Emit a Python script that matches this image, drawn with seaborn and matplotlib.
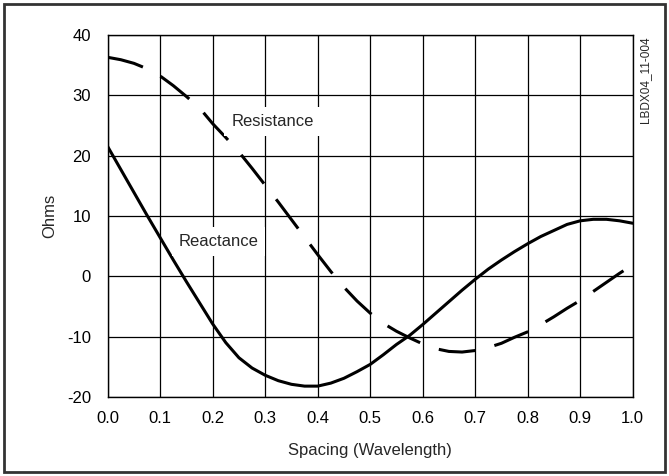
import numpy as np
import pandas as pd
import seaborn as sns
import matplotlib.pyplot as plt
from matplotlib.patches import Rectangle

# values, every 0.025 wavelength
spacing = [0.0, 0.025, 0.05, 0.075, 0.1, 0.125, 0.15, 0.175, 0.2, 0.225,
           0.25, 0.275, 0.3, 0.325, 0.35, 0.375, 0.4, 0.425, 0.45, 0.475,
           0.5, 0.525, 0.55, 0.575, 0.6, 0.625, 0.65, 0.675, 0.7, 0.725,
           0.75, 0.775, 0.8, 0.825, 0.85, 0.875, 0.9, 0.925, 0.95, 0.975, 1.0]
resistance = [36.3, 35.9, 35.3, 34.4, 33.2, 31.6, 29.8, 27.9, 25.3, 23.0,
              20.6, 17.9, 15.1, 12.3, 9.4, 6.5, 3.6, 0.8, -1.8, -4.1,
              -6.1, -7.8, -9.1, -10.2, -11.2, -12.0, -12.45, -12.55, -12.3, -11.8,
              -11.1, -10.1, -9.2, -8.0, -6.7, -5.3, -4.0, -2.5, -1.0, 0.5, 1.9]
reactance = [21.5, 17.7, 13.9, 10.1, 6.4, 2.7, -0.9, -4.4, -7.9, -11.0,
             -13.5, -15.2, -16.4, -17.3, -17.9, -18.2, -18.2, -17.7, -16.9, -15.8,
             -14.6, -13.0, -11.3, -9.8, -8.0, -6.1, -4.2, -2.3, -0.5, 1.2,
             2.7, 4.1, 5.4, 6.6, 7.6, 8.6, 9.2, 9.45, 9.45, 9.2, 8.8]

df = pd.DataFrame({"Spacing": spacing, "Resistance": resistance, "Reactance": reactance})

sns.set_style("white")
plt.rcParams['font.family'] = ['Liberation Sans', 'DejaVu Sans']
plt.rcParams['axes.unicode_minus'] = False

fig = plt.figure(figsize=(6.69, 4.76), dpi=100)
ax = fig.add_axes([0.161, 0.166, 0.7847, 0.7605])

sns.lineplot(data=df, x="Spacing", y="Reactance", ax=ax, color="black", lw=2.2)
sns.lineplot(data=df, x="Spacing", y="Resistance", ax=ax, color="black", lw=2.2,
             linestyle=(0, (12, 6.5)))

ax.set_xlim(0, 1.0)
ax.set_ylim(-20, 40)
ax.set_xticks(np.arange(0, 1.01, 0.1))
ax.set_xticklabels([f"{v:.1f}" for v in np.arange(0, 1.01, 0.1)])
ax.set_yticks([-20, -10, 0, 10, 20, 30, 40])
ax.grid(True, color="black", lw=0.9)
ax.set_axisbelow(True)
for s in ax.spines.values():
    s.set_color("black")
    s.set_linewidth(1.0)
ax.tick_params(length=0, labelsize=12, colors="black")
ax.tick_params(axis="x", pad=10)
ax.tick_params(axis="y", pad=12)
ax.set_xlabel("Spacing (Wavelength)", fontsize=12, labelpad=12)
ax.set_ylabel("Ohms", fontsize=12, labelpad=7)

box = dict(facecolor="white", edgecolor="none", pad=5)
ax.text(0.314, 25.6, "Resistance", ha="center", va="center", fontsize=12, bbox=box)
ax.text(0.211, 5.7, "Reactance", ha="center", va="center", fontsize=12, bbox=box)

fig.text(0.964, 0.832, "LBDX04_11-004", rotation=90, ha="center", va="center", fontsize=8.5)

fig.patches.append(Rectangle((0.006, 0.008), 0.988, 0.984, transform=fig.transFigure,
                             fill=False, edgecolor="#333333", lw=2))

fig.savefig("out.png", dpi=100)
